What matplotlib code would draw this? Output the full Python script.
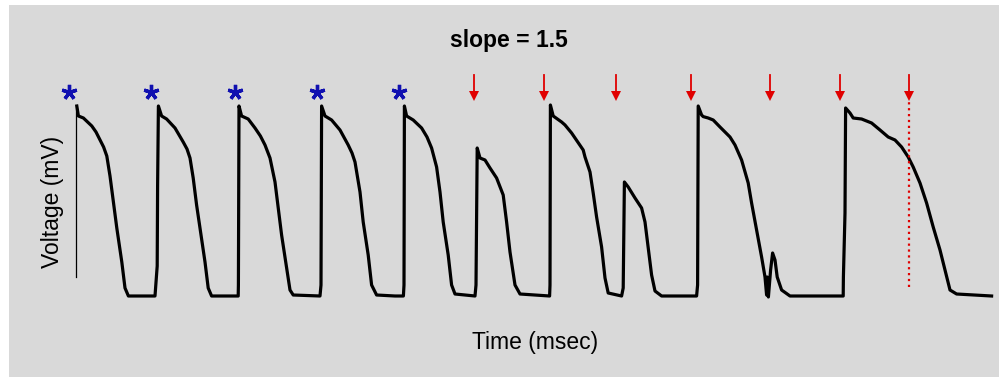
#!/usr/bin/env python3
"""
Action potential trace with pacing marks (slope = 1.5).
"""
import numpy as np
import matplotlib
matplotlib.use("Agg")
import matplotlib.pyplot as plt

plt.rcParams["font.family"] = ["Liberation Sans", "DejaVu Sans"]

# --- membrane voltage trace (time in ms, voltage in mV) ---
time_ms = [
    4, 12, 37, 79, 100, 120, 138, 154, 170, 187, 204, 229, 245, 262, 395,
    406, 408, 412,
    428, 453, 495, 536, 555, 570, 586, 603, 620, 645, 661, 678, 770, 811,
    812, 815,
    828, 861, 895, 922, 945, 970, 995, 1011, 1028, 1053, 1070, 1086, 1220,
    1225, 1228,
    1245, 1278, 1320, 1361, 1380, 1395, 1420, 1436, 1461, 1478, 1503, 1595,
    1637, 1640, 1642,
    1653, 1686, 1728, 1755, 1778, 1803, 1820, 1836, 1861, 1878, 1895, 1995,
    2000, 2006,
    2020, 2045, 2070, 2103, 2136, 2153, 2170, 2195, 2220, 2368,
    2370, 2372,
    2386, 2428, 2445, 2478, 2495, 2536, 2545, 2570, 2586, 2603, 2628, 2645,
    2661, 2728,
    2736, 2742,
    2761, 2795, 2828, 2845, 2861, 2878, 2895, 2928, 3103,
    3108, 3111,
    3128, 3136, 3161, 3186, 3220, 3270, 3295, 3328, 3361, 3378, 3403, 3428,
    3445, 3453, 3456, 3462, 3473, 3483, 3495, 3506, 3528, 3570, 3836,
    3837, 3845, 3848,
    3870, 3886, 3928, 3978, 4020, 4061, 4095, 4128, 4161, 4186, 4220, 4253,
    4286, 4320, 4345, 4370, 4403, 4486, 4578,
]
voltage_mv = [
    10, 5, 4, 0, -3, -7, -10.5, -15, -25, -38, -51, -68, -81, -85, -85,
    -70, -30, 10,
    5, 3.5, -1, -8, -11.5, -16, -26, -39.5, -51, -68, -81, -85, -85, -85,
    -79.5, 10,
    5, 3.5, -1, -5, -9.5, -16, -28, -41, -54.5, -71, -82, -84.5, -85,
    -79.5, 10,
    5, 3, -2, -9.5, -13.5, -18, -33, -48, -64.5, -79.5, -84.5, -85,
    -85, -79.5, 10,
    5, 3, -1, -5.5, -11, -20.5, -33, -48, -64.5, -79.5, -84, -85,
    -79.5, -11,
    -16, -17, -21, -26, -34.5, -48, -63, -79.5, -84, -85,
    -79.5, 10.5,
    5, 2, 0.5, -3.5, -6, -12, -15.5, -23, -33.5, -45.5, -60.5, -76,
    -83.5, -85,
    -81, -28,
    -30.5, -36, -41, -48, -61, -74.5, -82.5, -85, -85,
    -79.5, 10,
    5.5, 4.7, 4, 3, -0.5, -5.5, -9.5, -17, -28.5, -38.5, -52, -65.5,
    -75.5, -84.5, -75.5, -85.5, -72, -63.5, -67, -75.5, -82, -85, -85,
    -75.5, -43.5, 9,
    6.5, 4, 3.5, 1.5, -2, -5.5, -7, -10.5, -15.5, -20.5, -28.5, -38.5,
    -50.5, -62, -72, -82, -84, -84.5, -85,
]

# first upstroke, drawn as a thin line
first_upstroke_ms = -2
first_upstroke_mv = [-75.5, 10]

# regular stimuli (blue asterisks) and premature stimuli (red arrows)
star_ms = [-35, 375, 795, 1205, 1615]
arrow_ms = [1990, 2340, 2700, 3075, 3470, 3820, 4165]
marked_ms = 4165  # dotted line under the last arrow
marked_mv = [-80.5, 12]

title = "slope = 1.5"
xlabel = "Time (msec)"
ylabel = "Voltage (mV)"

blue = "#1010b0"
red = "#e00000"

fig = plt.figure(figsize=(9.99, 3.77), dpi=100)
fig.patch.set_facecolor("white")

# grey panel
bg = fig.add_axes([9 / 999, 0, 990 / 999, 372 / 377])
bg.set_facecolor("#d9d9d9")
bg.set_xticks([])
bg.set_yticks([])
for s in bg.spines.values():
    s.set_visible(False)

ax = fig.add_axes([0, 0, 1, 1])
ax.patch.set_alpha(0)
ax.axis("off")
ax.set_xlim(-380, 4615)
ax.set_ylim(-125.5, 63)

ax.plot([first_upstroke_ms] * 2, first_upstroke_mv, color="black", lw=0.9)
ax.plot(time_ms, voltage_mv, color="black", lw=2.3)

ax.plot(star_ms, [17] * len(star_ms), ls="none", marker=(5, 2, 0),
        markersize=11, markeredgewidth=2.4, color=blue)

for t in arrow_ms:
    ax.plot([t, t], [25.5, 15], color=red, lw=1.3)
ax.plot(arrow_ms, [14.8] * len(arrow_ms), ls="none", marker="v",
        markersize=7.5, color=red, markeredgewidth=0)

ax.plot([marked_ms] * 2, marked_mv, color=red, lw=1.6, ls=":")

fig.text(509 / 999, 1 - 40 / 377, title, ha="center", va="center",
         fontsize=16.5, fontweight="bold")
fig.text(535 / 999, 1 - 342 / 377, xlabel, ha="center", va="center",
         fontsize=16.5)
fig.text(53 / 999, 1 - 202 / 377, ylabel, ha="center", va="center",
         fontsize=16.5, rotation=90)

fig.savefig("out.png", dpi=100)
